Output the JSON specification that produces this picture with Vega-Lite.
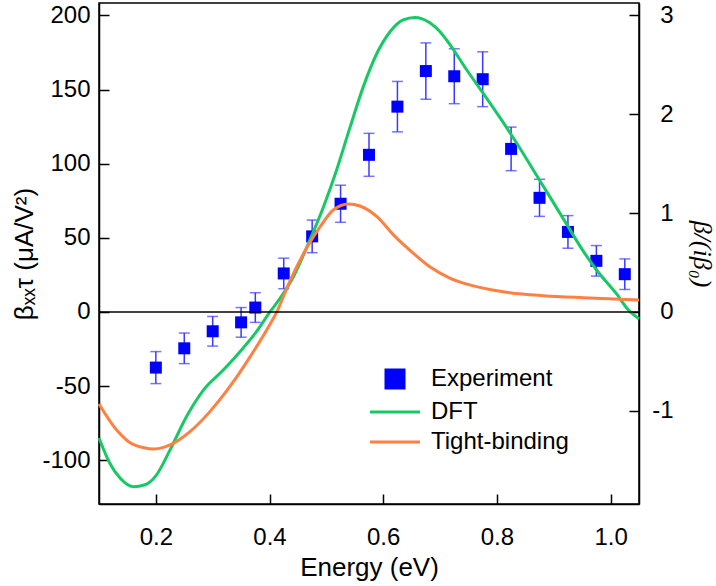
{
  "$schema": "https://vega.github.io/schema/vega-lite/v6.json",
  "width": 540,
  "height": 501,
  "autosize": {"type": "none"},
  "padding": {"left": 99, "top": 3, "right": 77, "bottom": 82},
  "background": "white",
  "config": {
    "view": {"stroke": "black", "strokeWidth": 1.5},
    "font": "Liberation Sans",
    "axis": {
      "domainColor": "black", "domainWidth": 1.5,
      "tickColor": "black", "tickWidth": 1.5, "tickSize": -10,
      "labelFont": "Liberation Sans", "labelFontSize": 24, "labelColor": "black",
      "titleFont": "Liberation Sans", "titleFontSize": 26, "titleFontWeight": "normal", "titleColor": "black",
      "grid": false, "labelFlush": false, "labelOverlap": false
    }
  },
  "datasets": {
    "exp": [
      {"E": 0.2, "beta": -37.5, "err": 10.8, "series": "Experiment"},
      {"E": 0.25, "beta": -24.5, "err": 10.3, "series": "Experiment"},
      {"E": 0.3, "beta": -13, "err": 10, "series": "Experiment"},
      {"E": 0.35, "beta": -7, "err": 10, "series": "Experiment"},
      {"E": 0.375, "beta": 3, "err": 10, "series": "Experiment"},
      {"E": 0.425, "beta": 26, "err": 10.3, "series": "Experiment"},
      {"E": 0.475, "beta": 51, "err": 11, "series": "Experiment"},
      {"E": 0.525, "beta": 73, "err": 12.5, "series": "Experiment"},
      {"E": 0.575, "beta": 106, "err": 14.5, "series": "Experiment"},
      {"E": 0.625, "beta": 138.5, "err": 17, "series": "Experiment"},
      {"E": 0.675, "beta": 162.5, "err": 19, "series": "Experiment"},
      {"E": 0.725, "beta": 159, "err": 18.5, "series": "Experiment"},
      {"E": 0.775, "beta": 157, "err": 18.5, "series": "Experiment"},
      {"E": 0.825, "beta": 110, "err": 14.7, "series": "Experiment"},
      {"E": 0.875, "beta": 77, "err": 12.5, "series": "Experiment"},
      {"E": 0.925, "beta": 54, "err": 11, "series": "Experiment"},
      {"E": 0.975, "beta": 34.5, "err": 10.3, "series": "Experiment"},
      {"E": 1.025, "beta": 25.5, "err": 10.3, "series": "Experiment"}
    ],
    "curves": [
      {"E": 0.100, "beta": -85, "series": "DFT"},
      {"E": 0.119, "beta": -102, "series": "DFT"},
      {"E": 0.137, "beta": -112, "series": "DFT"},
      {"E": 0.160, "beta": -117.8, "series": "DFT"},
      {"E": 0.181, "beta": -116.5, "series": "DFT"},
      {"E": 0.201, "beta": -110, "series": "DFT"},
      {"E": 0.225, "beta": -93, "series": "DFT"},
      {"E": 0.254, "beta": -70.5, "series": "DFT"},
      {"E": 0.284, "beta": -52.5, "series": "DFT"},
      {"E": 0.319, "beta": -39, "series": "DFT"},
      {"E": 0.348, "beta": -26.8, "series": "DFT"},
      {"E": 0.377, "beta": -13.3, "series": "DFT"},
      {"E": 0.401, "beta": 0.2, "series": "DFT"},
      {"E": 0.420, "beta": 10, "series": "DFT"},
      {"E": 0.442, "beta": 23.8, "series": "DFT"},
      {"E": 0.471, "beta": 48.6, "series": "DFT"},
      {"E": 0.495, "beta": 71, "series": "DFT"},
      {"E": 0.518, "beta": 95.8, "series": "DFT"},
      {"E": 0.542, "beta": 125, "series": "DFT"},
      {"E": 0.565, "beta": 152, "series": "DFT"},
      {"E": 0.589, "beta": 174.5, "series": "DFT"},
      {"E": 0.612, "beta": 189, "series": "DFT"},
      {"E": 0.635, "beta": 197, "series": "DFT"},
      {"E": 0.656, "beta": 198.7, "series": "DFT"},
      {"E": 0.682, "beta": 195.1, "series": "DFT"},
      {"E": 0.700, "beta": 189, "series": "DFT"},
      {"E": 0.718, "beta": 180, "series": "DFT"},
      {"E": 0.747, "beta": 163.2, "series": "DFT"},
      {"E": 0.776, "beta": 147.5, "series": "DFT"},
      {"E": 0.806, "beta": 130.7, "series": "DFT"},
      {"E": 0.835, "beta": 113.8, "series": "DFT"},
      {"E": 0.864, "beta": 95.8, "series": "DFT"},
      {"E": 0.893, "beta": 77.8, "series": "DFT"},
      {"E": 0.923, "beta": 59, "series": "DFT"},
      {"E": 0.952, "beta": 41, "series": "DFT"},
      {"E": 0.976, "beta": 28, "series": "DFT"},
      {"E": 1.011, "beta": 12, "series": "DFT"},
      {"E": 1.031, "beta": 1.5, "series": "DFT"},
      {"E": 1.050, "beta": -4.5, "series": "DFT"},
      {"E": 0.100, "beta": -62, "series": "Tight-binding"},
      {"E": 0.131, "beta": -79.6, "series": "Tight-binding"},
      {"E": 0.160, "beta": -89.3, "series": "Tight-binding"},
      {"E": 0.198, "beta": -92.4, "series": "Tight-binding"},
      {"E": 0.225, "beta": -89.7, "series": "Tight-binding"},
      {"E": 0.260, "beta": -80.7, "series": "Tight-binding"},
      {"E": 0.295, "beta": -67.2, "series": "Tight-binding"},
      {"E": 0.330, "beta": -50.4, "series": "Tight-binding"},
      {"E": 0.366, "beta": -30.1, "series": "Tight-binding"},
      {"E": 0.395, "beta": -12.1, "series": "Tight-binding"},
      {"E": 0.413, "beta": 0.2, "series": "Tight-binding"},
      {"E": 0.436, "beta": 21, "series": "Tight-binding"},
      {"E": 0.465, "beta": 43, "series": "Tight-binding"},
      {"E": 0.489, "beta": 57.5, "series": "Tight-binding"},
      {"E": 0.512, "beta": 68.8, "series": "Tight-binding"},
      {"E": 0.539, "beta": 72.9, "series": "Tight-binding"},
      {"E": 0.559, "beta": 71.5, "series": "Tight-binding"},
      {"E": 0.589, "beta": 64.3, "series": "Tight-binding"},
      {"E": 0.618, "beta": 52, "series": "Tight-binding"},
      {"E": 0.653, "beta": 39.6, "series": "Tight-binding"},
      {"E": 0.682, "beta": 30.5, "series": "Tight-binding"},
      {"E": 0.718, "beta": 22.7, "series": "Tight-binding"},
      {"E": 0.764, "beta": 17.1, "series": "Tight-binding"},
      {"E": 0.823, "beta": 13, "series": "Tight-binding"},
      {"E": 0.882, "beta": 11, "series": "Tight-binding"},
      {"E": 0.952, "beta": 9.6, "series": "Tight-binding"},
      {"E": 1.050, "beta": 8.1, "series": "Tight-binding"}
    ]
  },
  "layer": [
    {
      "layer": [
        {
          "data": {"name": "exp"},
          "mark": {"type": "errorbar", "ticks": {"size": 11}, "thickness": 1.5, "color": "#3a3aff"},
          "encoding": {
            "x": {"field": "E", "type": "quantitative", "title": "Energy (eV)"},
            "y": {"field": "beta", "type": "quantitative", "title": "βₓₓτ (μA/V²)"},
            "yError": {"field": "err"}
          }
        },
        {
          "data": {"name": "exp"},
          "mark": {"type": "square", "size": 144, "opacity": 1, "filled": true},
          "encoding": {
            "x": {"field": "E", "type": "quantitative", "title": "Energy (eV)"},
            "y": {"field": "beta", "type": "quantitative", "title": "βₓₓτ (μA/V²)"},
            "color": {"field": "series", "type": "nominal"}
          }
        },
        {
          "data": {"name": "curves"},
          "mark": {"type": "line", "strokeWidth": 3, "interpolate": "monotone"},
          "encoding": {
            "x": {
              "field": "E", "type": "quantitative", "title": "Energy (eV)",
              "scale": {"domain": [0.1, 1.05], "nice": false, "zero": false},
              "axis": {"values": [0.2, 0.4, 0.6, 0.8, 1.0], "format": ".1f", "labelPadding": 31, "titlePadding": 5}
            },
            "y": {
              "field": "beta", "type": "quantitative", "title": "βₓₓτ (μA/V²)",
              "scale": {"domain": [-129.5, 208.4], "nice": false, "zero": false},
              "axis": {"orient": "left", "values": [-100, -50, 0, 50, 100, 150, 200], "labelExpr": "datum.value < 0 ? '-' + abs(datum.value) : '' + datum.value", "labelPadding": 19, "titlePadding": 4}
            },
            "color": {
              "field": "series", "type": "nominal",
              "scale": {"domain": ["Experiment", "DFT", "Tight-binding"], "range": ["#0000ff", "#17c964", "#ff8040"]},
              "legend": {
                "orient": "none", "legendX": 284, "legendY": 364, "title": null,
                "padding": 0, "symbolSize": 400, "labelOffset": 24, "rowPadding": 6,
                "labelFont": "Liberation Sans", "labelFontSize": 24, "labelColor": "black",
                "encode": {
                  "symbols": {
                    "update": {
                      "shape": {"signal": "datum.value === 'Experiment' ? 'square' : 'M-2.5,0H2.5'"},
                      "size": {"signal": "datum.value === 'Experiment' ? 324 : 400"},
                      "fill": {"signal": "datum.value === 'Experiment' ? '#0000ff' : 'transparent'"},
                      "stroke": {"signal": "datum.value === 'Experiment' ? 'transparent' : (datum.value === 'DFT' ? '#17c964' : '#ff8040')"},
                      "strokeWidth": {"value": 3},
                      "opacity": {"value": 1}
                    }
                  }
                }
              }
            }
          }
        }
      ]
    },
    {
      "data": {"values": [{"z": 0}]},
      "mark": {"type": "rule", "color": "black", "strokeWidth": 1.5},
      "encoding": {
        "y": {
          "field": "z", "type": "quantitative", "title": "β/(iβ₀)",
          "scale": {"domain": [-1.9425, 3.126], "nice": false, "zero": false},
          "axis": {"orient": "right", "values": [-1, 0, 1, 2, 3], "labelExpr": "datum.value < 0 ? '-' + abs(datum.value) : '' + datum.value", "labelAlign": "right", "labelPadding": 44, "titleFont": "Liberation Serif", "titleFontStyle": "italic", "titlePadding": 15}
        }
      }
    }
  ],
  "resolve": {"scale": {"y": "independent"}}
}
